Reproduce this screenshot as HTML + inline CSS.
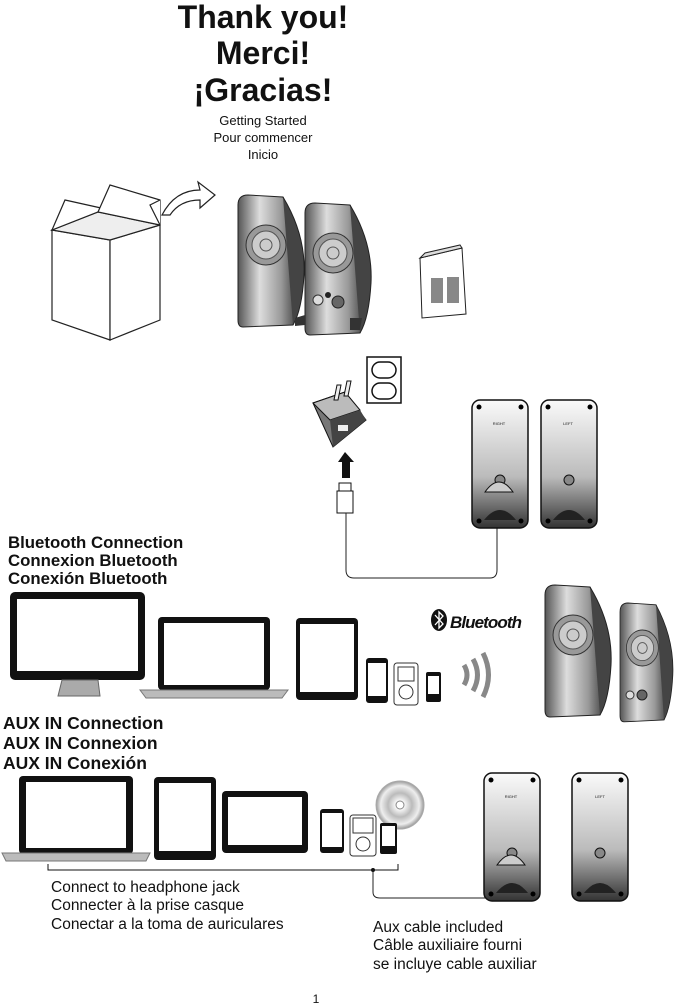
<!DOCTYPE html>
<html><head><meta charset="utf-8"><style>
body{margin:0;background:#fff;width:677px;height:1006px;overflow:hidden}
svg{display:block}
text{font-family:"Liberation Sans",sans-serif;fill:#111}
</style></head><body>
<svg width="677" height="1006" viewBox="0 0 677 1006">
<defs>
<linearGradient id="sp" x1="0" x2="1"><stop offset="0" stop-color="#555"/><stop offset=".35" stop-color="#ddd"/><stop offset=".7" stop-color="#999"/><stop offset="1" stop-color="#333"/></linearGradient>
<linearGradient id="bk" x1="0" y1="0" x2="0" y2="1"><stop offset="0" stop-color="#fafafa"/><stop offset=".6" stop-color="#bbb"/><stop offset="1" stop-color="#333"/></linearGradient>
<radialGradient id="cd"><stop offset=".15" stop-color="#fff"/><stop offset=".5" stop-color="#bbb"/><stop offset=".8" stop-color="#eee"/><stop offset="1" stop-color="#999"/></radialGradient>
<g id="spk">
<path d="M0,10 Q0,0 10,0 L45,2 Q62,40 62,70 Q62,110 55,130 L5,132 Q0,132 0,125Z" fill="url(#sp)" stroke="#222"/>
<path d="M45,2 Q68,40 66,80 Q64,115 55,130" fill="#444" stroke="#222"/>
<circle cx="28" cy="50" r="20" fill="#999" stroke="#333"/><circle cx="28" cy="50" r="14" fill="#ccc" stroke="#555"/><circle cx="28" cy="50" r="6" fill="none" stroke="#555"/>
</g>
<g id="back">
<rect x="0" y="0" width="56" height="128" rx="8" fill="url(#bk)" stroke="#111" stroke-width="1.5"/>
<circle cx="7" cy="7" r="2.5"/><circle cx="49" cy="7" r="2.5"/><circle cx="7" cy="121" r="2.5"/><circle cx="49" cy="121" r="2.5"/>
<circle cx="28" cy="80" r="5" fill="#888" stroke="#111"/>
<path d="M12,120 Q28,100 44,120Z" fill="#222"/>
</g>
</defs>

<text x="263" y="28" font-size="32" font-weight="bold" text-anchor="middle">Thank you!</text>
<text x="263" y="64" font-size="32" font-weight="bold" text-anchor="middle">Merci!</text>
<text x="263" y="101" font-size="32" font-weight="bold" text-anchor="middle">¡Gracias!</text>
<text x="263" y="125" font-size="13" text-anchor="middle">Getting Started</text>
<text x="263" y="142" font-size="13" text-anchor="middle">Pour commencer</text>
<text x="263" y="159" font-size="13" text-anchor="middle">Inicio</text>

<g fill="#fff" stroke="#222" stroke-width="1.2">
<path d="M52,230 L110,240 L110,340 L52,320Z"/>
<path d="M110,240 L160,225 L160,320 L110,340Z"/>
<path d="M52,230 L98,212 L160,225 L110,240Z" fill="#eee"/>
<path d="M52,230 L65,200 L110,210 L98,212Z"/>
<path d="M98,212 L110,185 L160,200 L160,225Z"/>
<path d="M160,225 L150,205 L160,200"/>
<path d="M162,215 Q175,190 200,190 L198,182 L215,195 L200,208 L200,200 Q180,200 170,215Z"/>
</g>

<use href="#spk" x="238" y="195"/>
<use href="#spk" x="305" y="203"/>
<circle cx="318" cy="300" r="5" fill="#ddd" stroke="#333"/><circle cx="328" cy="295" r="3" fill="#222"/><circle cx="338" cy="302" r="6" fill="#666" stroke="#222"/>
<path d="M295,318 L305,315 L305,325 L295,326Z" fill="#333"/>
<path d="M350,318 L362,318 L360,330 L350,330Z" fill="#333"/>

<path d="M420,258 L462,248 L466,314 L422,318Z" fill="#fff" stroke="#222"/>
<path d="M420,258 L462,248 L460,245 L425,253Z" fill="#ddd" stroke="#222"/>
<rect x="431" y="278" width="12" height="25" fill="#888"/><rect x="447" y="277" width="12" height="26" fill="#888"/>

<rect x="367" y="357" width="34" height="46" fill="#fff" stroke="#111" stroke-width="1.5"/>
<rect x="372" y="362" width="24" height="16" rx="8" fill="#fff" stroke="#111" stroke-width="1.5"/>
<rect x="372" y="383" width="24" height="16" rx="8" fill="#fff" stroke="#111" stroke-width="1.5"/>
<path d="M313,403 L345,392 L366,420 L333,447Z" fill="#777" stroke="#111"/>
<path d="M313,403 L345,392 L360,410 L330,420Z" fill="#bbb" stroke="#111"/>
<path d="M330,420 L360,410 L366,420 L333,447Z" fill="#444"/>
<rect x="338" y="425" width="10" height="6" fill="#eee"/>
<path d="M334,400 L337,385 L341,385 L338,400Z M344,396 L347,381 L351,381 L348,396Z" fill="#eee" stroke="#111"/>
<path d="M345,452 L338,462 L342,462 L342,478 L350,478 L350,462 L354,462Z" fill="#111"/>
<rect x="339" y="483" width="12" height="8" fill="#fff" stroke="#111"/>
<rect x="337" y="491" width="16" height="22" fill="#fff" stroke="#111"/>
<path d="M346,513 L346,570 Q346,578 354,578 L490,578 Q497,578 497,570 L497,520" fill="none" stroke="#222"/>

<use href="#back" x="472" y="400"/>
<use href="#back" x="541" y="400"/>
<text x="499" y="425" font-size="4" text-anchor="middle">RIGHT</text>
<text x="568" y="425" font-size="4" text-anchor="middle">LEFT</text>
<path d="M485,492 Q499,472 513,492Z" fill="#ccc" stroke="#111"/>

<text x="8" y="548" font-size="16.8" font-weight="bold">Bluetooth Connection</text>
<text x="8" y="566" font-size="16.8" font-weight="bold">Connexion Bluetooth</text>
<text x="8" y="584" font-size="16.8" font-weight="bold">Conexión Bluetooth</text>

<rect x="10" y="592" width="135" height="88" rx="5" fill="#111"/>
<rect x="17" y="599" width="121" height="72" fill="#fff"/>
<path d="M62,680 L98,680 L100,696 L58,696Z" fill="#aaa" stroke="#666"/>
<rect x="158" y="617" width="112" height="73" rx="4" fill="#111"/>
<rect x="164" y="623" width="100" height="62" fill="#fff"/>
<path d="M140,690 L288,690 L282,698 L146,698Z" fill="#bbb" stroke="#777"/>
<rect x="296" y="618" width="62" height="82" rx="4" fill="#111"/>
<rect x="300" y="624" width="54" height="68" fill="#fff"/>
<rect x="366" y="658" width="22" height="45" rx="3" fill="#111"/><rect x="368" y="663" width="18" height="33" fill="#fff"/>
<rect x="394" y="663" width="24" height="42" rx="3" fill="#fff" stroke="#333"/><rect x="398" y="667" width="16" height="14" fill="#fff" stroke="#333"/><circle cx="406" cy="692" r="7" fill="#fff" stroke="#333"/>
<rect x="426" y="672" width="15" height="30" rx="2" fill="#111"/><rect x="428" y="676" width="11" height="18" fill="#fff"/>
<ellipse cx="439" cy="620" rx="8" ry="11" fill="#111"/>
<path d="M435,615 L443,624 L439,628 L439,612 L443,616 L435,625" fill="none" stroke="#fff" stroke-width="1.3"/>
<text x="450" y="628" font-size="17" font-weight="bold" font-style="italic" textLength="72">Bluetooth</text>
<path d="M464,665 Q470,675 464,685" fill="none" stroke="#888" stroke-width="5"/>
<path d="M473,659 Q482,675 473,691" fill="none" stroke="#888" stroke-width="5"/>
<path d="M483,653 Q494,675 483,697" fill="none" stroke="#888" stroke-width="5"/>
<use href="#spk" x="545" y="585"/>
<g transform="translate(620,603) scale(.8,.9)"><use href="#spk"/></g>
<circle cx="630" cy="695" r="4" fill="#ddd" stroke="#333"/><circle cx="642" cy="695" r="5" fill="#666" stroke="#222"/>

<text x="3" y="729" font-size="17.5" font-weight="bold">AUX IN Connection</text>
<text x="3" y="749" font-size="17.5" font-weight="bold">AUX IN Connexion</text>
<text x="3" y="769" font-size="17.5" font-weight="bold">AUX IN Conexión</text>

<rect x="19" y="776" width="114" height="78" rx="4" fill="#111"/>
<rect x="26" y="782" width="100" height="66" fill="#fff"/>
<path d="M2,853 L150,853 L146,861 L6,861Z" fill="#bbb" stroke="#777"/>
<rect x="154" y="777" width="62" height="83" rx="4" fill="#111"/><rect x="159" y="783" width="52" height="68" fill="#fff"/>
<rect x="222" y="791" width="86" height="62" rx="4" fill="#111"/><rect x="228" y="797" width="74" height="48" fill="#fff"/>
<rect x="320" y="809" width="24" height="44" rx="3" fill="#111"/><rect x="322" y="813" width="20" height="34" fill="#fff"/>
<rect x="350" y="815" width="26" height="41" rx="3" fill="#fff" stroke="#333"/><rect x="353" y="818" width="20" height="15" fill="#fff" stroke="#333"/><circle cx="363" cy="844" r="7" fill="#fff" stroke="#333"/>
<circle cx="400" cy="805" r="24" fill="url(#cd)" stroke="#aaa"/><circle cx="400" cy="805" r="4" fill="#fff" stroke="#888"/>
<rect x="380" y="823" width="17" height="31" rx="2" fill="#111"/><rect x="382" y="826" width="13" height="20" fill="#fff"/>
<path d="M48,864 L48,870 L398,870 L398,864" fill="none" stroke="#111"/>
<circle cx="373" cy="870" r="2" fill="#111"/>
<path d="M373,872 L373,892 Q373,898 380,898 L505,898 Q512,898 512,890 L512,870" fill="none" stroke="#222"/>

<use href="#back" x="484" y="773"/>
<use href="#back" x="572" y="773"/>
<text x="511" y="798" font-size="4" text-anchor="middle">RIGHT</text>
<text x="600" y="798" font-size="4" text-anchor="middle">LEFT</text>
<path d="M497,865 Q511,845 525,865Z" fill="#ccc" stroke="#111"/>

<text x="51" y="892" font-size="15.5">Connect to headphone jack</text>
<text x="51" y="910" font-size="15.5">Connecter à la prise casque</text>
<text x="51" y="929" font-size="15.5">Conectar a la toma de auriculares</text>
<text x="373" y="932" font-size="15.5">Aux cable included</text>
<text x="373" y="950" font-size="15.5">Câble auxiliaire fourni</text>
<text x="373" y="969" font-size="15.5">se incluye cable auxiliar</text>
<text x="316" y="1003" font-size="12" text-anchor="middle">1</text>
</svg>
</body></html>
